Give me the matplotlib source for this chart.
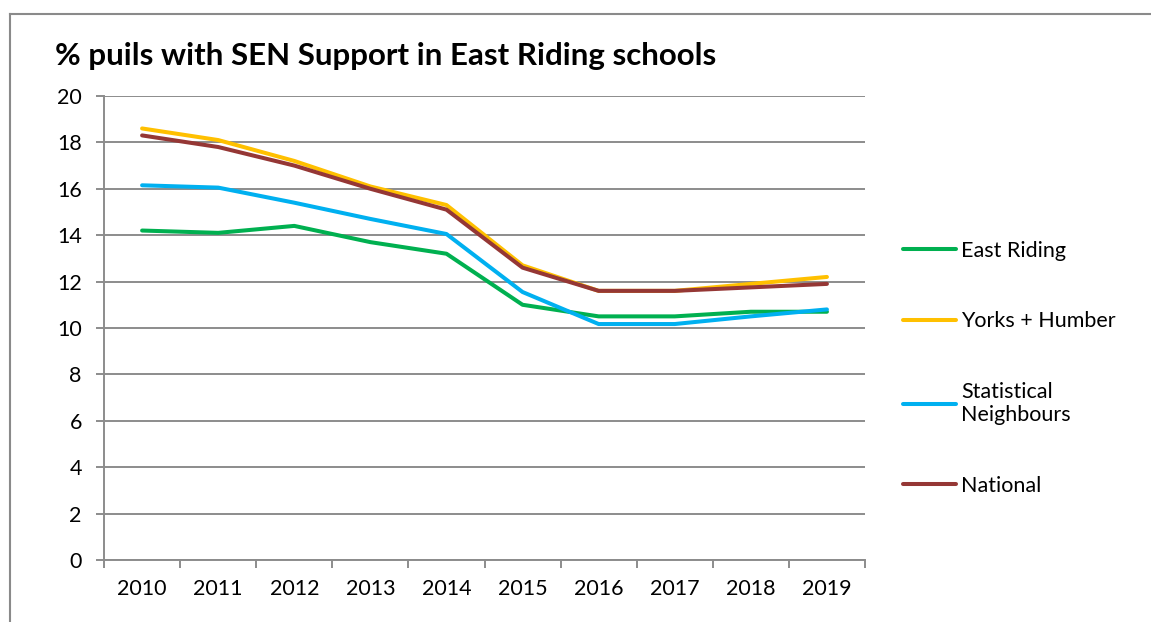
import matplotlib
matplotlib.use("Agg")
import matplotlib.pyplot as plt
from matplotlib.lines import Line2D

years = ["2010", "2011", "2012", "2013", "2014", "2015", "2016", "2017", "2018", "2019"]
east_riding = [14.2, 14.1, 14.4, 13.7, 13.2, 11.0, 10.5, 10.5, 10.7, 10.7]
yorks_humber = [18.6, 18.1, 17.2, 16.1, 15.3, 12.7, 11.6, 11.6, 11.9, 12.2]
stat_neighbours = [16.15, 16.05, 15.4, 14.7, 14.05, 11.55, 10.17, 10.17, 10.5, 10.8]
national = [18.3, 17.8, 17.0, 16.0, 15.1, 12.6, 11.6, 11.6, 11.75, 11.9]

series_names = ["East Riding", "Yorks + Humber", "Statistical\nNeighbours", "National"]
series_values = [east_riding, yorks_humber, stat_neighbours, national]
colors = ["#00B050", "#FFC000", "#00B0F0", "#953735"]
yticks = list(range(0, 21, 2))
title = "% puils with SEN Support in East Riding schools"

plt.rcParams['font.family'] = ['Lato', 'DejaVu Sans']

fig = plt.figure(figsize=(11.51, 6.22), dpi=100)
ax = fig.add_axes([0.0904, 0.0997, 0.6611, 0.746])

x = list(range(len(years)))
order = [0, 2, 1, 3]
lines = {}
for i in order:
    ln, = ax.plot(x, series_values[i], color=colors[i], lw=2.9,
                  solid_joinstyle='round', solid_capstyle='round', zorder=3)
    lines[i] = ln

ax.set_xlim(-0.5, len(years) - 0.5)
ax.set_ylim(0, 20)
ax.set_yticks(yticks)
ax.set_yticklabels([str(v) for v in yticks])
ax.set_xticks(x)
ax.set_xticklabels(years)
ax.set_xticks([i + 0.5 for i in range(-1, len(years))], minor=True)

grid_c = "#8C8C8C"
ax.yaxis.grid(True, color=grid_c, lw=1.4, zorder=1)
ax.set_axisbelow(True)
for s in ["top", "right"]:
    ax.spines[s].set_visible(False)
for s in ["left", "bottom"]:
    ax.spines[s].set_color(grid_c)
    ax.spines[s].set_linewidth(1.4)
ax.tick_params(axis='y', length=6, width=1.4, color=grid_c, labelsize=15.5, pad=10)
ax.tick_params(axis='x', which='major', length=0, labelsize=15.5, pad=14)
ax.tick_params(axis='x', which='minor', length=6, width=1.4, color=grid_c)

leg = ax.legend([lines[i] for i in range(4)], series_names,
                loc='upper left', bbox_to_anchor=(1.038, 0.707),
                frameon=False, fontsize=15.5, handlelength=2.5,
                handletextpad=0.23, labelspacing=2.35, borderaxespad=0)
for t in leg.get_texts():
    t.set_color("black")

fig.text(0.048, 0.91, title, fontsize=22.5, fontweight='bold', va='center', ha='left')

border_c = "#8A8A8A"
fig.add_artist(Line2D([0.0087, 1.0], [0.978, 0.978], color=border_c, lw=1.5, transform=fig.transFigure))
fig.add_artist(Line2D([0.0087, 0.0087], [0.0, 0.978], color=border_c, lw=1.5, transform=fig.transFigure))

fig.savefig("out.png", dpi=100)
